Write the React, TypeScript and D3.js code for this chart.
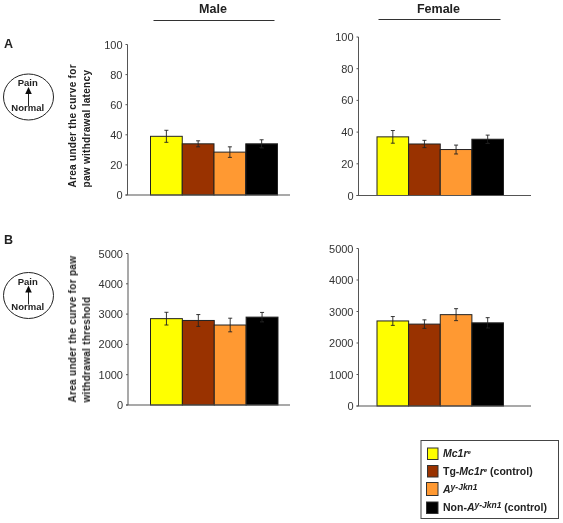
import React from "react";
import * as d3 from "d3";

const groups = ["Mc1re", "Tg-Mc1re", "Ay-Jkn1", "Non-Ay-Jkn1"];
const colors = ["#ffff00", "#993300", "#ff9933", "#000000"];
const latencyTicks = [0, 20, 40, 60, 80, 100];
const thresholdTicks = [0, 1000, 2000, 3000, 4000, 5000];
const maleLatency = [39, 34, 28.5, 34];
const maleLatencyErr = [4, 2, 3.5, 2.7];
const femaleLatency = [37, 32.5, 29, 35.5];
const femaleLatencyErr = [4, 2.3, 2.8, 2.6];
const maleThreshold = [2850, 2790, 2640, 2900];
const maleThresholdErr = [210, 195, 225, 155];
const femaleThreshold = [2700, 2600, 2900, 2640];
const femaleThresholdErr = [140, 135, 190, 165];

const FONT = "Arial, 'Liberation Sans', sans-serif";
const TEXT = "#222";

function Panel({ values, errs, ticks, axisX, xEnd, y0, yTop, barL, barR, labelGap = 4 }: any) {
  const max = ticks[ticks.length - 1];
  const y = d3.scaleLinear().domain([0, max]).range([y0, yTop]);
  const x = d3.scaleBand<string>().domain(groups).range([barL, barR]);
  const bw = x.bandwidth();
  return (
    <g>
      {values.map((v: number, i: number) => {
        const cx = x(groups[i])! + bw / 2;
        return (
          <g key={i}>
            <rect x={x(groups[i])} y={y(v)} width={bw} height={y0 - y(v)} fill={colors[i]} stroke="#222" strokeWidth={1} />
            <path
              d={`M${cx - 2},${y(v + errs[i])}H${cx + 2}M${cx},${y(v + errs[i])}V${y(v - errs[i])}M${cx - 2},${y(v - errs[i])}H${cx + 2}`}
              stroke="#222" strokeWidth={0.9} fill="none"
            />
          </g>
        );
      })}
      <line x1={axisX} x2={axisX} y1={yTop} y2={y0} stroke="#555" strokeWidth={1} />
      <line x1={axisX - 2} x2={xEnd} y1={y0} y2={y0} stroke="#555" strokeWidth={1} />
      {ticks.map((t: number) => (
        <g key={t}>
          <line x1={axisX - 2} x2={axisX} y1={y(t)} y2={y(t)} stroke="#555" />
          <text x={axisX - labelGap - 1} y={y(t) + 4} textAnchor="end" fontSize={11} fontFamily={FONT} fill="#333">{t}</text>
        </g>
      ))}
    </g>
  );
}

function Dial({ cy }: { cy: number }) {
  return (
    <g fontFamily={FONT} fontSize={9.5} fontWeight="bold" fill="#222" textAnchor="middle">
      <ellipse cx={28.5} cy={cy} rx={25} ry={23} fill="#fff" stroke="#222" strokeWidth={1} />
      <text x={27.7} y={cy - 11}>Pain</text>
      <text x={27.7} y={cy + 14}>Normal</text>
      <line x1={28.5} x2={28.5} y1={cy + 9} y2={cy - 4} stroke="#222" strokeWidth={1} />
      <path d={`M28.5,${cy - 10}L25.2,${cy - 3}H31.8Z`} fill="#111" />
    </g>
  );
}

function YTitle({ x, bottom, lines }: { x: number; bottom: number; lines: string[] }) {
  return (
    <g transform={`translate(${x},${bottom}) rotate(-90)`} fontFamily={FONT} fontSize={10} fontWeight="bold" fill={TEXT} textAnchor="start" letterSpacing={0.3}>
      <text y={0}>{lines[0]}</text>
      <text y={14}>{lines[1]}</text>
    </g>
  );
}

function LegendEntry({ i, y, sx = 427.5, sy, sw = 10.5, sh = 11.5, children }: any) {
  return (
    <g>
      <rect x={sx} y={sy} width={sw} height={sh} fill={colors[i]} stroke="#333" strokeWidth={1} />
      <text x={443} y={y} fontFamily={FONT} fontSize={10.5} fontWeight="bold" fill={TEXT}>{children}</text>
    </g>
  );
}

export default function App() {
  return (
    <svg width={563} height={523} style={{ position: "absolute", left: 0, top: 0, background: "#fff" }}>
      <defs>
        <filter id="soft" x="0" y="0" width="100%" height="100%"><feGaussianBlur stdDeviation="0.3" /></filter>
      </defs>
      <g filter="url(#soft)">
        <text x={213} y={13} textAnchor="middle" fontFamily={FONT} fontSize={12.5} fontWeight="bold" fill={TEXT}>Male</text>
        <line x1={153.5} x2={274.5} y1={20.5} y2={20.5} stroke="#333" />
        <text x={438.5} y={13} textAnchor="middle" fontFamily={FONT} fontSize={12.5} fontWeight="bold" fill={TEXT}>Female</text>
        <line x1={378.5} x2={500.5} y1={19.5} y2={19.5} stroke="#333" />
        <text x={4} y={47.5} fontFamily={FONT} fontSize={12.5} fontWeight="bold" fill={TEXT}>A</text>
        <text x={4} y={243.5} fontFamily={FONT} fontSize={12.5} fontWeight="bold" fill={TEXT}>B</text>
        <Dial cy={97} />
        <Dial cy={295.5} />
        <YTitle x={76} bottom={187.5} lines={["Area under the curve for", "paw withdrawal latency"]} />
        <YTitle x={76} bottom={402.5} lines={["Area under the curve for paw", "withdrawal threshold"]} />
        <Panel values={maleLatency} errs={maleLatencyErr} ticks={latencyTicks} axisX={127.5} xEnd={290} y0={195} yTop={44.5} barL={150.5} barR={277.5} />
        <Panel values={femaleLatency} errs={femaleLatencyErr} ticks={latencyTicks} axisX={358.5} xEnd={531} y0={195.5} yTop={37} barL={377} barR={503.5} />
        <Panel values={maleThreshold} errs={maleThresholdErr} ticks={thresholdTicks} axisX={128} xEnd={290} y0={405} yTop={253.5} barL={150.5} barR={278} />
        <Panel values={femaleThreshold} errs={femaleThresholdErr} ticks={thresholdTicks} axisX={358.5} xEnd={531} y0={406} yTop={248.5} barL={377} barR={503.5} />
        <rect x={421} y={440.5} width={137.5} height={78} fill="#fff" stroke="#444" strokeWidth={1} />
        <LegendEntry i={0} y={457} sy={448}>
          <tspan fontStyle="italic">Mc1r</tspan><tspan fontSize={6} dy={-3} fontStyle="italic">e</tspan>
        </LegendEntry>
        <LegendEntry i={1} y={475} sy={465.5}>
          Tg-<tspan fontStyle="italic">Mc1r</tspan><tspan fontSize={6} dy={-3} fontStyle="italic">e</tspan><tspan dy={3}> (control)</tspan>
        </LegendEntry>
        <LegendEntry i={2} y={493} sx={426.5} sw={11.5} sy={482.5} sh={13}>
          <tspan fontStyle="italic">A</tspan><tspan fontSize={8.5} dy={-3} fontStyle="italic">y-Jkn1</tspan>
        </LegendEntry>
        <LegendEntry i={3} y={511} sx={426.5} sw={11.5} sy={502}>
          Non-<tspan fontStyle="italic">A</tspan><tspan fontSize={8.5} dy={-3} fontStyle="italic">y-Jkn1</tspan><tspan dy={3}> (control)</tspan>
        </LegendEntry>
      </g>
    </svg>
  );
}
